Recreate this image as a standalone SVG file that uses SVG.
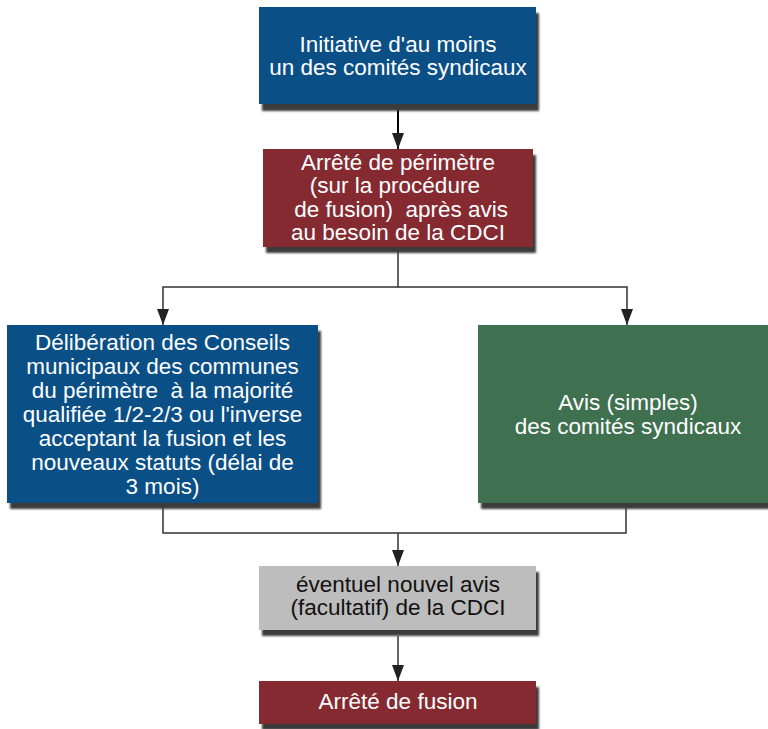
<svg xmlns="http://www.w3.org/2000/svg" width="768" height="729" viewBox="0 0 768 729">
<style>
.sh{fill:#3a3a3a;filter:url(#blur)}
.t{font-family:"Liberation Sans",Arial,sans-serif;font-size:22.5px;text-anchor:middle;fill:#ffffff;white-space:pre}
.dk{fill:#111111}
.blue{fill:#0b4f87}
.red{fill:#862a31}
.green{fill:#3f7050}
.gray{fill:#bdbdbd}
.c{fill:none;stroke:#333333;stroke-width:1.5}
</style>
<defs>
<filter id="blur" x="-5%" y="-5%" width="110%" height="120%"><feGaussianBlur stdDeviation="1"/></filter>
<marker id="ah" viewBox="0 0 16 12" refX="16" refY="6" markerWidth="16" markerHeight="12" markerUnits="userSpaceOnUse" orient="auto"><path d="M0,0 L16,6 L0,12 z" fill="#222222"/></marker>
</defs>
<rect width="768" height="729" fill="#ffffff"/>
<g id="connectors">
<line x1="398" y1="104" x2="398" y2="149" stroke="#000" stroke-width="2" marker-end="url(#ah)"/>
<path class="c" d="M398,247 V287 H163 V325" marker-end="url(#ah)"/>
<path class="c" d="M398,287 H627 V325" marker-end="url(#ah)"/>
<path class="c" d="M163,508 V533 H626 V508"/>
<path class="c" d="M398,533 V566" marker-end="url(#ah)"/>
<path class="c" d="M398,636 V681" marker-end="url(#ah)"/>
</g>
<g id="n1">
<rect class="sh" x="262" y="13" width="277" height="98"/>
<rect class="blue" x="259" y="7" width="277" height="97"/>
<text class="t" x="398" y="51.5">Initiative d'au moins</text>
<text class="t" x="398" y="74.5">un des comités syndicaux</text>
</g>
<g id="n2">
<rect class="sh" x="266" y="155" width="270" height="98"/>
<rect class="red" x="263" y="149" width="270" height="98"/>
<text class="t" x="398" y="169.5">Arrêté de périmètre</text>
<text class="t" x="398" y="193">(sur la procédure </text>
<text class="t" x="398" y="216.5"> de fusion)  après avis</text>
<text class="t" x="398" y="240">au besoin de la CDCI</text>
</g>
<g id="n3">
<rect class="sh" x="10" y="331" width="311" height="178"/>
<rect class="blue" x="7" y="325" width="311" height="178"/>
<text class="t" x="162.5" y="350">Délibération des Conseils</text>
<text class="t" x="162.5" y="374">municipaux des communes</text>
<text class="t" x="162.5" y="398">du périmètre  à la majorité</text>
<text class="t" x="162.5" y="422">qualifiée 1/2-2/3 ou l'inverse</text>
<text class="t" x="162.5" y="446">acceptant la fusion et les</text>
<text class="t" x="162.5" y="469.5">nouveaux statuts (délai de</text>
<text class="t" x="162.5" y="493.5">3 mois)</text>
</g>
<g id="n4">
<rect class="sh" x="481" y="331" width="298" height="178"/>
<rect class="green" x="478" y="325" width="298" height="178"/>
<text class="t" x="628" y="410">Avis (simples)</text>
<text class="t" x="628" y="434">des comités syndicaux</text>
</g>
<g id="n5">
<rect class="sh" x="262" y="572" width="277" height="64"/>
<rect class="gray" x="259" y="566" width="277" height="64"/>
<text class="t dk" x="398" y="592">éventuel nouvel avis</text>
<text class="t dk" x="398" y="615">(facultatif) de la CDCI</text>
</g>
<g id="n6">
<rect class="sh" x="262" y="687" width="277" height="43"/>
<rect class="red" x="259" y="681" width="277" height="43"/>
<text class="t" x="398" y="708.5">Arrêté de fusion</text>
</g>
</svg>
